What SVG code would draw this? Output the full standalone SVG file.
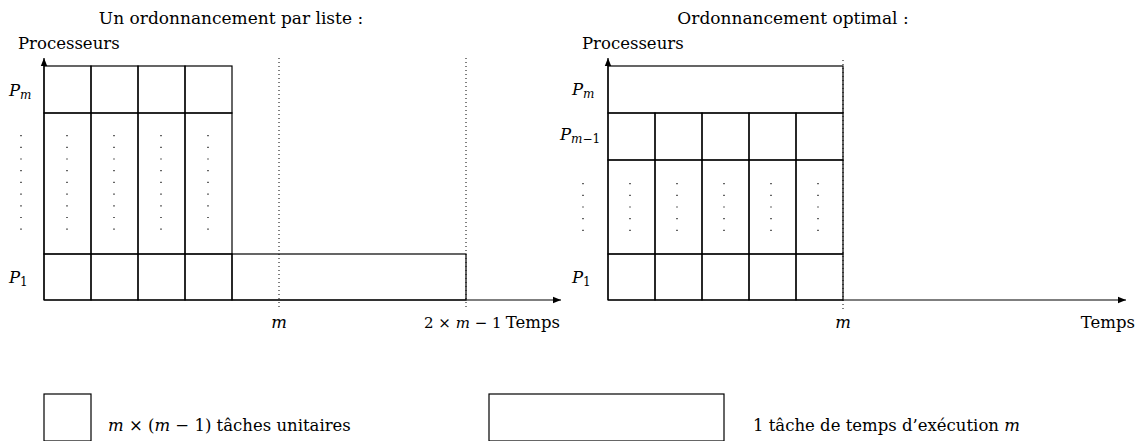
<svg xmlns="http://www.w3.org/2000/svg" width="1138" height="441" viewBox="0 0 1138 441">
<style>
text{font-family:"DejaVu Serif","Liberation Serif",serif;font-size:16.5px;fill:#000}
.t{font-size:17px}
.i{font-style:italic}
.s{font-size:12px}
.c{fill:none;stroke:#000;stroke-width:1.2}
.ax{stroke:#000;stroke-width:1.2;fill:none}
.dl{stroke:#000;stroke-width:1;stroke-dasharray:1 3;fill:none}
.dd{stroke:#000;stroke-width:1.2;stroke-dasharray:1.2 10.5;fill:none}
</style>
<defs>
<marker id="ah" viewBox="0 0 10 10" refX="10" refY="5" markerWidth="8" markerHeight="8" markerUnits="userSpaceOnUse" orient="auto"><path d="M0,1 L10,5 L0,9 z" fill="#000"/></marker>
</defs>
<rect width="1138" height="441" fill="#fff"/>
<text class="t" x="231" y="24" text-anchor="middle">Un ordonnancement par liste  :</text>
<text class="t" x="793" y="24" text-anchor="middle">Ordonnancement optimal  :</text>

<g id="left-tasks">
<rect class="c" x="44" y="66" width="47" height="47"/>
<rect class="c" x="91" y="66" width="47" height="47"/>
<rect class="c" x="138" y="66" width="47" height="47"/>
<rect class="c" x="185" y="66" width="47" height="47"/>
<rect class="c" x="44" y="113" width="47" height="141"/>
<rect class="c" x="91" y="113" width="47" height="141"/>
<rect class="c" x="138" y="113" width="47" height="141"/>
<rect class="c" x="185" y="113" width="47" height="141"/>
<rect class="c" x="44" y="254" width="47" height="46"/>
<rect class="c" x="91" y="254" width="47" height="46"/>
<rect class="c" x="138" y="254" width="47" height="46"/>
<rect class="c" x="185" y="254" width="47" height="46"/>
<rect class="c" x="232" y="254" width="234" height="46"/>
<path class="dd" d="M21,135V232M67,135V232M114,135V232M161,135V232M208,135V232"/>
</g>

<g id="right-tasks">
<rect class="c" x="608" y="66" width="235" height="47"/>
<rect class="c" x="608" y="113" width="47" height="47"/>
<rect class="c" x="655" y="113" width="47" height="47"/>
<rect class="c" x="702" y="113" width="47" height="47"/>
<rect class="c" x="749" y="113" width="47" height="47"/>
<rect class="c" x="796" y="113" width="47" height="47"/>
<rect class="c" x="608" y="160" width="47" height="94"/>
<rect class="c" x="655" y="160" width="47" height="94"/>
<rect class="c" x="702" y="160" width="47" height="94"/>
<rect class="c" x="749" y="160" width="47" height="94"/>
<rect class="c" x="796" y="160" width="47" height="94"/>
<rect class="c" x="608" y="254" width="47" height="46"/>
<rect class="c" x="655" y="254" width="47" height="46"/>
<rect class="c" x="702" y="254" width="47" height="46"/>
<rect class="c" x="749" y="254" width="47" height="46"/>
<rect class="c" x="796" y="254" width="47" height="46"/>
<path class="dd" d="M583,183V235M630,183V235M677,183V235M724,183V235M771,183V235M818,183V235"/>
</g>

<g id="connectors">
<path class="ax" d="M44,300V58" marker-end="url(#ah)"/>
<path class="ax" d="M44,300H561" marker-end="url(#ah)"/>
<path class="ax" d="M608,300V58" marker-end="url(#ah)"/>
<path class="ax" d="M608,300H1126" marker-end="url(#ah)"/>
<path class="dl" d="M279,58V310M466,58V310M843,60V310"/>
</g>

<g id="labels">
<text x="18" y="49">Processeurs</text>
<text x="582" y="49">Processeurs</text>
<text x="9" y="96" class="i">P<tspan class="s" dy="3">m</tspan></text>
<text x="9" y="283" class="i">P<tspan class="s" dy="3" font-style="normal">1</tspan></text>
<text x="572" y="95" class="i">P<tspan class="s" dy="3">m</tspan></text>
<text x="560" y="140" class="i">P<tspan class="s" dy="3">m</tspan><tspan class="s" font-style="normal">−1</tspan></text>
<text x="572" y="283" class="i">P<tspan class="s" dy="3" font-style="normal">1</tspan></text>
<text x="279" y="328" text-anchor="middle" class="i">m</text>
<text x="424" y="328" style="font-size:15px">2 × <tspan class="i">m</tspan> − 1</text>
<text x="560" y="328" text-anchor="end">Temps</text>
<text x="843" y="328" text-anchor="middle" class="i">m</text>
<text x="1135" y="328" text-anchor="end">Temps</text>
</g>

<g id="legend">
<rect class="c" x="44" y="394" width="47" height="47"/>
<text x="108" y="431"><tspan class="i">m</tspan> × (<tspan class="i">m</tspan> − 1) tâches unitaires</text>
<rect class="c" x="489" y="394" width="235" height="47"/>
<text x="753" y="431">1 tâche de temps d’exécution <tspan class="i">m</tspan></text>
</g>
</svg>
